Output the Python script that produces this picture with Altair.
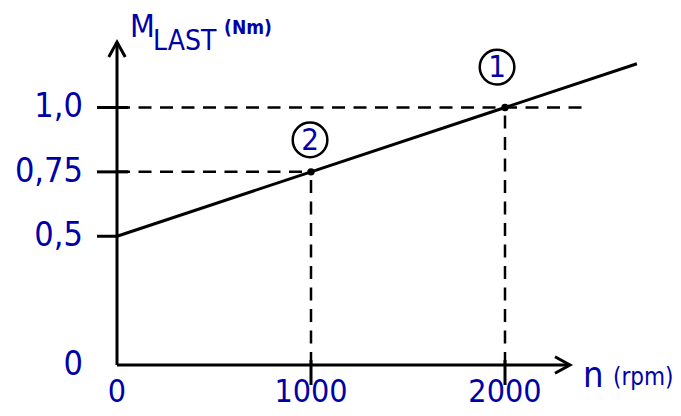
import altair as alt
import pandas as pd

# ---- data ----
speed = [0, 1000, 2000, 2680]          # n (rpm) along the load line
torque = [0.5, 0.75, 1.0, 1.17]        # M_LAST (Nm)
point_speed = [1000, 2000]
point_torque = [0.75, 1.0]
point_names = ["2", "1"]
badge_speed = [995, 1959]
badge_torque = [0.874, 1.157]
guide_end = [1000, 2400]
x_ticks = [0, 1000, 2000]
x_labels = ["0", "1000", "2000"]
y_ticks = [0, 0.5, 0.75, 1.0]
y_labels = ["0", "0,5", "0,75", "1,0"]
x_axis_max = 2335
y_axis_max = 1.254
title_parts = ["M", "LAST"]
title_x = [67, 186]
title_y = [1.274, 1.223]
title_fs = [32, 28]
unit_part = ["(Nm)"]
unit_x = [552]
unit_y = [1.285]
xlab_parts = ["n", "(rpm)"]
xlab_x = [2402, 2557]
xlab_y = [-0.085, -0.078]
xlab_fs = [36, 24]

BLUE = "#0000a8"
FONT = "DejaVu Sans Condensed, Liberation Sans, sans-serif"
X = alt.Scale(domain=[-561.9, 2866], nice=False, zero=False)
Y = alt.Scale(domain=[-0.167, 1.3864], nice=False, zero=False)


def xe(f):
    return alt.X(f, type="quantitative", scale=X, axis=None)


def ye(f):
    return alt.Y(f, type="quantitative", scale=Y, axis=None)


axes_df = pd.DataFrame({"x": [0, 0], "x2": [0, x_axis_max], "y": [0, 0], "y2": [y_axis_max, 0]})
axes = alt.Chart(axes_df).mark_rule(color="black", strokeWidth=3).encode(
    x=xe("x"), x2=alt.X2("x2"), y=ye("y"), y2=alt.Y2("y2"))

yarrow = alt.Chart(pd.DataFrame({"x": [0], "y": [y_axis_max]})).mark_point(
    shape="M-0.55,1L0,0L0.55,1", size=900, filled=False, color="black",
    strokeWidth=3, opacity=1).encode(x=xe("x"), y=ye("y"))
xarrow = alt.Chart(pd.DataFrame({"x": [x_axis_max], "y": [0]})).mark_point(
    shape="M-1,-0.55L0,0L-1,0.55", size=900, filled=False, color="black",
    strokeWidth=3, opacity=1).encode(x=xe("x"), y=ye("y"))

ytick_df = pd.DataFrame({"y": y_ticks[1:], "x": [0] * 3})
yticks = alt.Chart(ytick_df).mark_rule(color="black", strokeWidth=3, xOffset=-20, x2Offset=0).encode(
    x=xe("x"), x2=alt.X2("x"), y=ye("y"))
ytick_stub_df = pd.DataFrame({"y": y_ticks[2:], "x": [0] * 2})
ystubs = alt.Chart(ytick_stub_df).mark_rule(color="black", strokeWidth=3, xOffset=0, x2Offset=11).encode(
    x=xe("x"), x2=alt.X2("x"), y=ye("y"))

xtick_df = pd.DataFrame({"x": x_ticks[1:], "y": [0] * 2})
xticks = alt.Chart(xtick_df).mark_rule(color="black", strokeWidth=3, yOffset=-5, y2Offset=20).encode(
    x=xe("x"), y=ye("y"), y2=alt.Y2("y"))

guide_df = pd.DataFrame({"px": point_speed, "py": point_torque, "end": guide_end,
                         "zero": [0, 0]})
hguides = alt.Chart(guide_df).mark_rule(color="black", strokeWidth=2.5, strokeDash=[13, 8.5]).encode(
    x=xe("zero"), x2=alt.X2("end"), y=ye("py"))
vguides = alt.Chart(guide_df).mark_rule(color="black", strokeWidth=2.5, strokeDash=[13, 8.5]).encode(
    x=xe("px"), y=ye("zero"), y2=alt.Y2("py"))

line = alt.Chart(pd.DataFrame({"n": speed, "m": torque})).mark_line(
    color="black", strokeWidth=3).encode(x=xe("n"), y=ye("m"))

dots = alt.Chart(guide_df).mark_point(filled=True, color="black", size=55, opacity=1).encode(
    x=xe("px"), y=ye("py"))

badge_df = pd.DataFrame({"x": badge_speed, "y": badge_torque, "t": point_names})
badges = alt.Chart(badge_df).mark_point(shape="circle", size=1200, filled=False, color="black",
                                         strokeWidth=2.5, opacity=1).encode(x=xe("x"), y=ye("y"))
badge_text = alt.Chart(badge_df).mark_text(color=BLUE, font=FONT, fontSize=31, baseline="middle",
                                           align="center", dy=1).encode(
    x=xe("x"), y=ye("y"), text="t:N")

ylab_df = pd.DataFrame({"y": y_ticks, "x": [0] * 4, "t": y_labels})
ylabs = alt.Chart(ylab_df).mark_text(color=BLUE, font=FONT, fontSize=34, baseline="middle",
                                     align="right", dx=-34).encode(
    x=xe("x"), y=ye("y"), text="t:N")

xlab_df = pd.DataFrame({"x": x_ticks, "y": [0] * 3, "t": x_labels})
xlabs = alt.Chart(xlab_df).mark_text(color=BLUE, font=FONT, fontSize=32, baseline="top",
                                     align="center", dy=12).encode(
    x=xe("x"), y=ye("y"), text="t:N")

title_df = pd.DataFrame({"x": title_x + xlab_x, "y": title_y + xlab_y,
                         "t": title_parts + xlab_parts, "fs": title_fs + xlab_fs})
titles = alt.Chart(title_df).mark_text(color=BLUE, font=FONT, baseline="alphabetic",
                                       align="left").encode(
    x=xe("x"), y=ye("y"), text="t:N", size=alt.Size("fs:Q", scale=None, legend=None))

unit_df = pd.DataFrame({"x": unit_x, "y": unit_y, "t": unit_part})
unit = alt.Chart(unit_df).mark_text(color=BLUE, font=FONT, baseline="alphabetic", align="left",
                                    fontSize=19, fontWeight="bold").encode(
    x=xe("x"), y=ye("y"), text="t:N")

chart = alt.layer(hguides, vguides, axes, yarrow, xarrow, yticks, ystubs, xticks, line, dots,
                  badges, badge_text, ylabs, xlabs, titles, unit).properties(
    width=665, height=400, autosize=alt.AutoSizeParams(type="none"), padding=0,
    background="white"
).configure_view(strokeWidth=0)

chart.save("out.html", embed_options={"renderer": "svg", "actions": False})
